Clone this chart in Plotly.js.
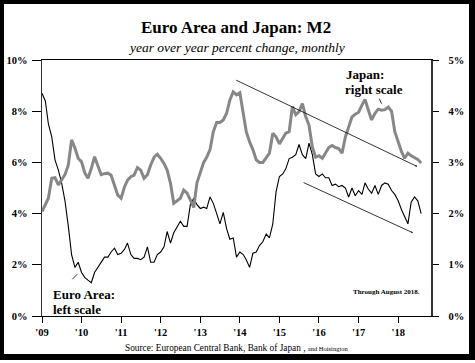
<!DOCTYPE html>
<html>
<head>
<meta charset="utf-8">
<script src="https://cdn.plot.ly/plotly-3.0.1.min.js"></script>
<style>
  html, body { margin: 0; padding: 0; background: #fff; }
  #chart { position: absolute; left: 0; top: 0; width: 475px; height: 363px; }
  #frame { position: absolute; left: 0; top: 0; width: 475px; height: 360px; box-sizing: border-box;
           border: 4px solid #000; border-right-width: 6px; border-bottom-width: 6px; pointer-events: none; }
</style>
</head>
<body>
<div id="chart"></div>
<div id="frame"></div>
<script>
// ---- data (monthly, Jan 2009 – Aug 2018) ----
const startYear = 2009;
const monthCount = 116;

// Euro Area M2, y/y % change (left scale)
const euroM2 = [
  8.7, 8.4, 7.5, 7.0, 6.1, 5.7, 5.2, 4.5, 3.5, 2.4,
  1.9, 2.1, 1.7, 1.5, 1.4, 1.3, 1.7, 1.9, 2.1, 2.3,
  2.3, 2.5, 2.65, 2.4, 2.45, 2.6, 2.85, 2.4, 2.25, 2.25,
  2.2, 2.3, 2.7, 2.1, 2.1, 2.4, 2.5, 2.7, 3.3, 2.85,
  3.25, 3.5, 3.7, 3.5, 3.5, 4.35, 4.6, 4.35, 4.2, 4.25,
  4.2, 4.65, 4.4, 4.0, 3.6, 4.05, 3.4, 3.0, 3.05, 2.3,
  2.5, 2.4, 2.2, 1.9, 2.45, 2.5, 2.75, 2.9, 3.2, 3.05,
  3.6, 4.85, 5.45, 5.55, 5.75, 6.15, 6.2, 6.3, 6.7, 6.3,
  6.15, 6.75, 6.3, 5.55, 5.45, 5.55, 5.4, 5.4, 5.1, 5.15,
  5.05, 5.1, 5.0, 4.65, 5.0, 4.7, 4.9, 4.75, 5.2, 4.95,
  4.8, 5.1, 4.75, 5.1, 5.2, 5.15, 4.9, 4.75, 4.5, 4.15,
  3.9, 3.6, 4.45, 4.65, 4.5, 4.0
];

// Japan M2, y/y % change (right scale)
const japanM2 = [
  2.04, 2.18, 2.3, 2.69, 2.7, 2.56, 2.66, 2.76, 2.95, 3.44,
  3.28, 3.08, 3.01, 2.79, 2.69, 2.88, 3.11, 2.92, 2.76, 2.78,
  2.79, 2.75, 2.55, 2.36, 2.3, 2.52, 2.65, 2.72, 2.75, 2.9,
  2.85, 2.69, 2.76, 2.95, 3.1, 3.16, 3.08, 2.98, 2.85, 2.59,
  2.2, 2.26, 2.3, 2.46, 2.4, 2.27, 2.12, 2.6, 2.8, 3.0,
  3.1, 3.25, 3.6, 3.78, 3.78, 3.83, 3.96, 4.22, 4.38, 4.32,
  4.36, 4.0, 3.6, 3.4, 3.25, 3.05, 3.0, 3.0, 3.08, 3.18,
  3.57, 3.5, 3.36, 3.47, 3.57, 3.6, 4.09, 3.93, 3.99, 4.15,
  3.89, 3.73, 3.3, 3.1, 3.13, 3.08, 3.18, 3.29, 3.33, 3.29,
  3.27, 3.18, 3.5, 3.7, 3.89, 3.94, 3.98, 4.12, 4.23, 4.02,
  3.83, 3.96, 4.04, 4.02, 4.03, 4.08, 4.0, 3.6, 3.4, 3.21,
  3.08, 3.18, 3.13, 3.1, 3.06, 2.99
];

// x-axis ticks
const tickYears = [2009, 2010, 2011, 2012, 2013, 2014, 2015, 2016, 2017, 2018];
const tickLabels = ["'09", "'10", "'11", "'12", "'13", "'14", "'15", "'16", "'17", "'18"];

// left / right axis ticks
const leftTicks = [0, 2, 4, 6, 8, 10];
const rightTicks = [0, 1, 2, 3, 4, 5];

// guide lines drawn on the chart: [fromDate, fromLeftValue, toDate, toLeftValue, arrow]
const guideLines = [
  ['2013-11-14', 9.24, '2018-06-26', 5.84, true],
  ['2015-07-29', 5.24, '2018-05-17', 3.25, true],
  ['2009-09-25', 1.38, '2009-11-22', 1.63, false],
  ['2017-07-04', 8.55, '2017-08-01', 8.29, false]
];

// ---- build ----
const months = [];
for (let i = 0; i < monthCount; i++) {
  const y = startYear + Math.floor(i / 12);
  const m = (i % 12) + 1;
  months.push(y + '-' + String(m).padStart(2, '0') + '-01');
}
const tickDates = tickYears.map(y => y + '-01-01');

const serif = 'Liberation Serif, Times New Roman, serif';

const traces = [
  { x: months, y: japanM2, yaxis: 'y2', type: 'scatter', mode: 'lines',
    line: { color: '#878787', width: 3 }, name: 'Japan', hoverinfo: 'skip' },
  { x: months, y: euroM2, yaxis: 'y', type: 'scatter', mode: 'lines',
    line: { color: '#000000', width: 1.1 }, name: 'Euro Area', hoverinfo: 'skip' }
];

const annotations = guideLines.map(g => ({
  x: g[2], y: g[3], ax: g[0], ay: g[1], xref: 'x', yref: 'y', axref: 'x', ayref: 'y',
  text: '', showarrow: true, arrowhead: g[4] ? 2 : 0, arrowsize: 0.45, arrowwidth: 0.8,
  arrowcolor: '#000', standoff: 0, startstandoff: 0
}));

function label(text, x, y, size, xanchor, extra) {
  return Object.assign({ text: text, x: x, y: y, xref: 'paper', yref: 'paper', showarrow: false,
    xanchor: xanchor, yanchor: 'middle', font: { family: serif, size: size, color: '#000' } }, extra || {});
}

annotations.push(
  label('<i>year over year percent change, monthly</i>', 0.5, 1.05, 13.5, 'center'),
  label('<b>Japan:</b>', 0.777, 0.945, 13, 'left'),
  label('<b>right scale</b>', 0.775, 0.885, 13, 'left'),
  label('<b>Euro Area:</b>', 0.022, 0.085, 13, 'left'),
  label('<b>left scale</b>', 0.024, 0.027, 13, 'left'),
  label('<b>Through August 2018.</b>', 0.977, 0.095, 7, 'right'),
  label('Source: European Central Bank, Bank of Japan , <span style="font-size:6.5px">and Hoisington</span>',
        0.5, -0.125, 9.3, 'center')
);

const layout = {
  width: 475, height: 363,
  margin: { l: 42, r: 44, t: 60, b: 47, pad: 0 },
  paper_bgcolor: 'rgba(0,0,0,0)', plot_bgcolor: '#fff',
  showlegend: false,
  title: { text: '<b>Euro Area and Japan: M2</b>', x: 0.497, xanchor: 'center',
           y: 0.925, yanchor: 'middle', font: { family: serif, size: 17, color: '#000' } },
  xaxis: {
    type: 'date', range: ['2009-01-01', '2018-10-31'],
    tickvals: tickDates, ticktext: tickLabels,
    ticks: 'outside', ticklen: 6, tickwidth: 1, tickcolor: '#000',
    showline: true, linecolor: '#000', linewidth: 1, mirror: true,
    showgrid: false, zeroline: false,
    tickfont: { family: serif, size: 10.5, color: '#000', weight: 'bold' }
  },
  yaxis: {
    range: [0, 10], tickvals: leftTicks, ticktext: leftTicks.map(v => v + '%'),
    ticks: 'outside', ticklen: 9, tickwidth: 1, tickcolor: '#000',
    showline: true, linecolor: '#333', linewidth: 1.5,
    showgrid: false, zeroline: false, ticklabelstandoff: 2,
    tickfont: { family: serif, size: 10.5, color: '#000', weight: 'bold' }
  },
  yaxis2: {
    overlaying: 'y', side: 'right', range: [0, 5],
    tickvals: rightTicks, ticktext: rightTicks.map(v => v + '%'),
    ticks: 'outside', ticklen: 6, tickwidth: 1, tickcolor: '#000',
    showline: true, linecolor: '#333', linewidth: 1.5,
    showgrid: false, zeroline: false, ticklabelstandoff: 8,
    tickfont: { family: serif, size: 10.5, color: '#000', weight: 'bold' }
  },
  annotations: annotations
};

Plotly.newPlot('chart', traces, layout, { staticPlot: true, displayModeBar: false });
</script>
</body>
</html>
